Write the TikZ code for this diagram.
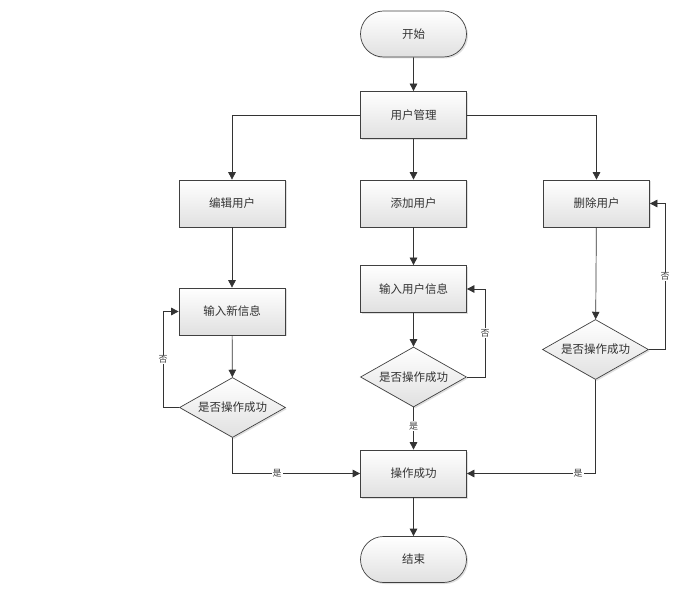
\documentclass[tikz,border=0pt]{standalone}
\usepackage{fontspec}
\setmainfont{Noto Sans CJK SC}
\usetikzlibrary{arrows.meta,shapes.geometric,shapes.misc,shadows}
\begin{document}
\begin{tikzpicture}[x=1pt,y=-1pt,
  base/.style={draw=black!75,line width=0.7pt,top color=white,bottom color=black!12,
    drop shadow={shadow xshift=1.5pt,shadow yshift=-1.5pt,opacity=0.25},
    font=\fontsize{11.5}{13}\selectfont,text=black!80,inner sep=0pt},
  proc/.style={base,rectangle,minimum width=106pt,minimum height=47pt},
  term/.style={base,rounded rectangle,minimum width=106pt,minimum height=46pt},
  dec/.style={base,diamond,aspect=1.78,minimum width=106pt,minimum height=60pt},
  conn/.style={draw=black!80,line width=0.7pt,-{Triangle[length=7.5pt,width=7.5pt]}},
  lab/.style={fill=white,inner sep=1pt,font=\fontsize{9}{10}\selectfont,text=black!75}]
\useasboundingbox (0,0) rectangle (693,601);
\node[term] (start) at (413.5,34) {开始};
\node[proc] (um) at (413.5,115) {用户管理};
\node[proc] (edit) at (232,203.5) {编辑用户};
\node[proc] (add) at (413.5,203.5) {添加用户};
\node[proc] (del) at (596.5,203.5) {删除用户};
\node[proc] (inew) at (232,311.5) {输入新信息};
\node[proc] (iuser) at (413.5,289) {输入用户信息};
\node[dec] (d1) at (232.5,407.5) {是否操作成功};
\node[dec] (d2) at (413.5,377) {是否操作成功};
\node[dec] (d3) at (595.5,349.5) {是否操作成功};
\node[proc] (ok) at (413.5,473.5) {操作成功};
\node[term] (end) at (413.5,559.5) {结束};
\coordinate (c1) at (163,407.5);
\coordinate (c2) at (485,377);
\coordinate (c3) at (665,349.5);
\draw[conn] (start) -- (um);
\draw[conn] (um.west) -| (edit.north);
\draw[conn] (um) -- (add);
\draw[conn] (um.east) -| (del.north);
\draw[conn] (edit) -- (inew);
\draw[conn] (add) -- (iuser);
\draw[conn] (del) -- (d3);
\draw[conn] (inew) -- (d1);
\draw[conn] (iuser) -- (d2);
\draw[conn] (d1.west) -- (c1) |- node[lab,pos=0.25]{否} (inew.west);
\draw[conn] (d2.east) -- (c2) |- node[lab,pos=0.25]{否} (iuser.east);
\draw[conn] (d3.east) -- (c3) |- node[lab,pos=0.25]{否} (del.east);
\draw[conn] (d1.south) |- node[lab,pos=0.675]{是} (ok.west);
\draw[conn] (d2.south) -- node[lab,pos=0.45]{是} (ok.north);
\draw[conn] (d3.south) |- node[lab,pos=0.568]{是} (ok.east);
\draw[conn] (ok) -- (end);
\end{tikzpicture}
\end{document}
